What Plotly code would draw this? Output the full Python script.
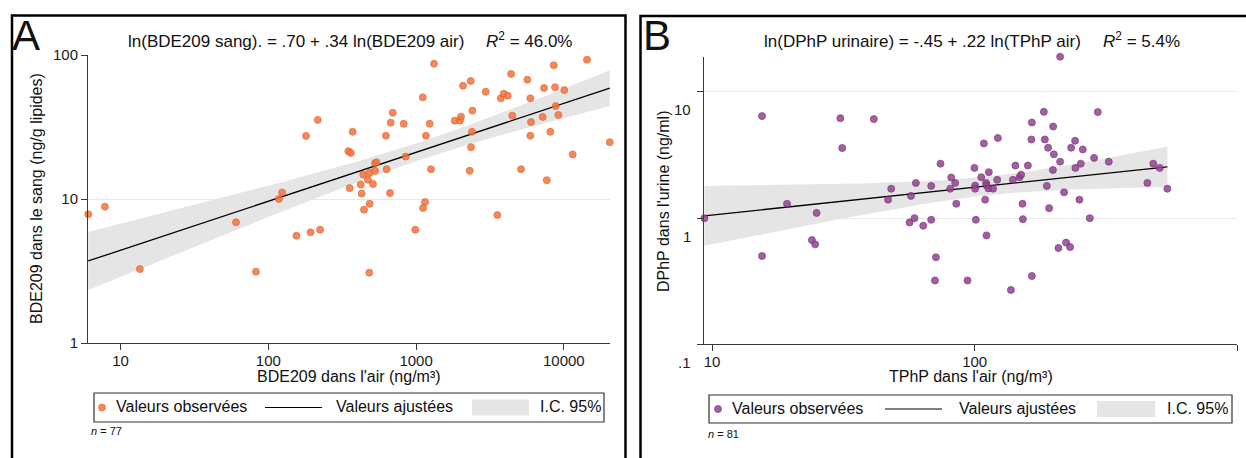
import numpy as np
import plotly.graph_objects as go

# ---- Panel A : BDE209 (air vs. serum) ----
bde_air = [6.04, 7.83, 13.5, 60.4, 82.4, 118, 124, 155, 180, 193, 216, 224, 348, 362, 355,
           372, 439, 422, 428, 444, 485, 485, 472, 511, 527, 527, 482, 625, 632, 666, 673,
           695, 824, 851, 988, 1109, 1115, 1149, 1166, 1236, 1261, 1322, 1824, 1982, 2013,
           2078, 2344, 2404, 2390, 2354, 2306, 2958, 3548, 3741, 3920, 4169, 4393, 4479,
           5129, 5663, 5934, 5998, 5934, 7194, 7345, 7659, 8106, 8455, 8550, 8718, 8810,
           9180, 10070, 11480, 14350, 20460, 540]
bde_sang = [7.83, 8.85, 3.26, 6.89, 3.13, 10.0, 11.1, 5.56, 27.4, 5.87, 35.4, 6.12, 21.5,
            20.9, 11.9, 29.3, 14.8, 12.6, 10.9, 8.43, 9.28, 15.2, 13.6, 12.7, 17.7, 15.7,
            3.08, 27.5, 16.1, 11.0, 33.9, 39.7, 33.3, 19.7, 6.12, 50.8, 8.66, 9.53, 27.5,
            33.3, 16.1, 87.1, 35.0, 35.0, 37.3, 61.2, 66.0, 41.1, 29.3, 22.9, 15.7, 55.6,
            7.74, 50.0, 53.9, 52.2, 73.8, 37.9, 16.1, 67.4, 50.0, 34.2, 27.5, 37.1, 59.0,
            13.5, 29.3, 101.6, 84.8, 59.7, 44.2, 38.3, 57.1, 20.4, 92.8, 24.8, 18.0]
coef_a = (0.70, 0.34)     # intercept, slope of ln-ln fit
r2_a = 46.0

# ---- Panel B : TPhP in air vs. urinary DPhP ----
tphp_air = [9.35, 15.5, 15.5, 19.3, 24.0, 24.7, 25.0, 30.8, 31.3, 41.3, 46.8, 48.1, 56.5,
            57.2, 59.0, 59.7, 63.7, 68.3, 68.3, 70.6, 71.2, 74.1, 80.7, 81.4, 84.3, 85.1,
            93.9, 99.8, 100.4, 100.4, 101, 105.9, 108.4, 109.6, 110.6, 110.9, 112.8, 113.2,
            110.9, 117.5, 121.8, 122.5, 137.4, 139.8, 142.9, 148.1, 150.3, 152.1, 152.6,
            159.4, 164.4, 165.1, 165.1, 183.4, 185, 188.2, 190.4, 192.1, 198.5, 199, 200.2,
            208.4, 211.5, 211.5, 219, 222.9, 230.9, 232.9, 241.2, 241.9, 250.5, 253.5, 258,
            274.4, 284.9, 294.3, 324, 454.6, 478.6, 506.7, 541.6]
dphp_urine = [1.00, 6.43, 0.501, 1.30, 0.670, 0.620, 1.10, 6.19, 3.59, 6.09, 1.40, 1.71,
              0.925, 1.50, 1.00, 1.90, 0.871, 1.80, 0.971, 0.321, 0.490, 2.70, 1.71, 2.10,
              1.90, 1.30, 0.321, 2.50, 1.81, 1.71, 0.971, 2.11, 3.91, 1.40, 1.90, 1.82, 1.72,
              2.31, 0.730, 1.71, 2.01, 4.31, 0.270, 2.01, 2.61, 2.11, 2.21, 1.30, 0.982, 2.61,
              4.20, 5.72, 0.348, 6.95, 4.20, 1.80, 3.61, 1.20, 2.41, 5.32, 3.20, 0.580, 19.0,
              2.80, 1.60, 0.640, 0.590, 3.61, 4.10, 2.50, 1.40, 2.70, 3.50, 1.00, 3.00, 6.92,
              2.80, 1.90, 2.70, 2.50, 1.71]
coef_b = (-0.45, 0.22)
r2_b = 5.4

ticks_a_x = [10, 100, 1000, 10000]
ticks_a_y = [1, 10, 100]
ticks_b_x = [10, 100, 1000]
ticks_b_y = [0.1, 1, 10]
labels_b_y = [".1", "1", "10"]

W, H = 1246, 458
FONT = "Liberation Sans, Arial, sans-serif"
T975 = 1.99          # Student t quantile, ~75-79 df
BAND = "#E5E5E5"
EPS = 0.0015         # tiny log-range padding so edge points are not culled


def px(x):
    return x / W


def py(y):
    return 1 - y / H


def fmt(v):
    s = f"{abs(v):.2f}".lstrip("0")
    return ("-" if v < 0 else "") + s


def fit_band(x, y, coef, npts=80):
    """Fitted line from the stated coefficients and its 95% CI of the mean (ln-ln)."""
    a, b = coef
    lx, ly = np.log(np.asarray(x, float)), np.log(np.asarray(y, float))
    n = len(lx)
    s = np.sqrt(np.sum((ly - (a + b * lx)) ** 2) / (n - 2))
    sxx = np.sum((lx - lx.mean()) ** 2)
    g = np.linspace(lx.min(), lx.max(), npts)
    se = s * np.sqrt(1 / n + (g - lx.mean()) ** 2 / sxx)
    fit = a + b * g
    return np.exp(g), np.exp(fit - T975 * se), np.exp(fit), np.exp(fit + T975 * se)


fig = go.Figure()


def add_panel(x, y, coef, xa, ya, color, edge):
    gx, lo, fit, hi = fit_band(x, y, coef)
    fig.add_trace(go.Scatter(x=gx, y=lo, mode="lines", line=dict(width=0),
                             xaxis=xa, yaxis=ya, hoverinfo="skip", showlegend=False))
    fig.add_trace(go.Scatter(x=gx, y=hi, mode="lines", line=dict(width=0), fill="tonexty",
                             fillcolor=BAND, xaxis=xa, yaxis=ya, hoverinfo="skip",
                             showlegend=False))
    fig.add_trace(go.Scatter(x=gx, y=fit, mode="lines", line=dict(color="black", width=1.3),
                             xaxis=xa, yaxis=ya, showlegend=False))
    fig.add_trace(go.Scatter(x=x, y=y, mode="markers", xaxis=xa, yaxis=ya, showlegend=False,
                             cliponaxis=False,
                             marker=dict(size=7, color=color, opacity=0.85,
                                         line=dict(color=edge, width=0.8))))


ORANGE, ORANGE_EDGE = "#F6733A", "#D95F2B"
PURPLE, PURPLE_EDGE = "#934391", "#6F2A6D"

add_panel(bde_air, bde_sang, coef_a, "x", "y", ORANGE, ORANGE_EDGE)
add_panel(tphp_air, dphp_urine, coef_b, "x2", "y2", PURPLE, PURPLE_EDGE)

axis_common = dict(type="log", showline=True, linecolor="#3a3a3a", linewidth=1,
                   ticks="outside", ticklen=6, tickcolor="#3a3a3a", tickwidth=1,
                   tickfont=dict(family=FONT, size=15, color="#1a1a1a"),
                   zeroline=False, showgrid=False, automargin=False)

fig.update_layout(
    template="none",
    width=W, height=H, margin=dict(l=0, r=0, t=0, b=0, autoexpand=False),
    paper_bgcolor="white", plot_bgcolor="white", showlegend=False,
    xaxis=dict(**axis_common, domain=[px(88), px(610)], ticklabelstandoff=-2,
               range=[np.log10(min(bde_air)) - EPS, np.log10(max(bde_air)) + EPS],
               tickvals=ticks_a_x, ticktext=[str(v) for v in ticks_a_x], anchor="y"),
    yaxis=dict(**{**axis_common, "showgrid": True}, gridcolor="#E9E9E9", gridwidth=1,
               domain=[py(343), py(55)], range=[0, 2],
               tickvals=ticks_a_y, ticktext=[str(v) for v in ticks_a_y], anchor="x"),
    xaxis2=dict(**axis_common, domain=[px(704), px(1237.3)], ticklabelstandoff=-2,
                range=[np.log10(min(tphp_air)) - EPS, 3],
                tickvals=ticks_b_x, ticktext=[str(v) for v in ticks_b_x], anchor="y2"),
    yaxis2=dict(**{**axis_common, "showgrid": True}, gridcolor="#E9E9E9", gridwidth=1,
                domain=[py(344.4), py(56.5)], range=[-1, np.log10(max(dphp_urine)) + EPS],
                tickvals=ticks_b_y, showticklabels=False, anchor="x2"),
)

ann = []
shapes = []


def text(x, y, s, size=16, xanchor="left", yanchor="middle", **kw):
    ann.append(dict(x=px(x), y=py(y), xref="paper", yref="paper", text=s, showarrow=False,
                    xanchor=xanchor, yanchor=yanchor,
                    font=dict(family=FONT, size=size, color="#111"), **kw))


# panel frames
shapes.append(dict(type="rect", xref="paper", yref="paper", x0=px(12), x1=px(625.5),
                   y0=-0.05, y1=py(15.5), line=dict(color="black", width=2.5)))
shapes.append(dict(type="rect", xref="paper", yref="paper", x0=px(640.5), x1=1.05,
                   y0=-0.05, y1=py(16), line=dict(color="black", width=2.5)))

# panel letters
text(10, 36, "A", size=42)
text(641, 36, "B", size=42)

# regression equations
text(126, 42, f"ln(BDE209 sang). = {fmt(coef_a[0])} + {fmt(coef_a[1])} ln(BDE209 air)", size=17)
text(484, 40, f"<i>R</i><sup>2</sup> = {r2_a:.1f}%", size=17)
text(762, 42, f"ln(DPhP urinaire) = {fmt(coef_b[0])} + {fmt(coef_b[1])} ln(TPhP air)", size=17)
text(1101, 40, f"<i>R</i><sup>2</sup> = {r2_b:.1f}%", size=17)

# axis titles
text(349, 376, "BDE209 dans l'air (ng/m³)", xanchor="center")
text(37, 199, "BDE209 dans le sang (ng/g lipides)", xanchor="center", textangle=-90)
text(971, 376, "TPhP dans l'air (ng/m³)", xanchor="center")
text(663, 201, "DPhP dans l'urine (ng/ml)", xanchor="center", textangle=-90)

# panel B y tick labels sit slightly below their ticks
for v, lab in zip(ticks_b_y, labels_b_y):
    ann.append(dict(x=px(693), y=np.log10(v), xref="paper", yref="y2", text=lab,
                    showarrow=False, xanchor="right", yanchor="middle", yshift=-18,
                    font=dict(family=FONT, size=15, color="#1a1a1a")))


def legend(x0, x1, y0, y1, dot_x, txt1_x, line_x0, line_x1, txt2_x, box_x0, box_x1,
           txt3_x, color, edge, n_x, n_y, n):
    yc = (y0 + y1) / 2
    shapes.append(dict(type="rect", xref="paper", yref="paper", x0=px(x0), x1=px(x1),
                       y0=py(y1), y1=py(y0), line=dict(color="#333", width=1.2)))
    shapes.append(dict(type="circle", xref="paper", yref="paper",
                       x0=px(dot_x - 3.5), x1=px(dot_x + 3.5), y0=py(yc + 3.5),
                       y1=py(yc - 3.5), fillcolor=color, opacity=0.85,
                       line=dict(color=edge, width=0.8)))
    text(txt1_x, yc - 1, "Valeurs observées")
    shapes.append(dict(type="line", xref="paper", yref="paper", x0=px(line_x0),
                       x1=px(line_x1), y0=py(yc), y1=py(yc),
                       line=dict(color="black", width=1.2)))
    text(txt2_x, yc - 1, "Valeurs ajustées")
    shapes.append(dict(type="rect", xref="paper", yref="paper", x0=px(box_x0),
                       x1=px(box_x1), y0=py(yc + 8), y1=py(yc - 8), fillcolor=BAND,
                       line=dict(width=0)))
    text(txt3_x, yc - 1, "I.C. 95%")
    text(n_x, n_y, f"<i>n</i> = {n}", size=11)


legend(94, 604, 393, 422, 102, 114, 265, 322, 334, 472, 529, 538, ORANGE, ORANGE_EDGE,
       89, 431, len(bde_air))
legend(709, 1232, 395, 423, 718, 730, 885, 942, 957, 1097, 1155, 1165, PURPLE, PURPLE_EDGE,
       706, 434, len(tphp_air))

fig.update_layout(annotations=ann, shapes=shapes)
fig.write_html("out.html")
